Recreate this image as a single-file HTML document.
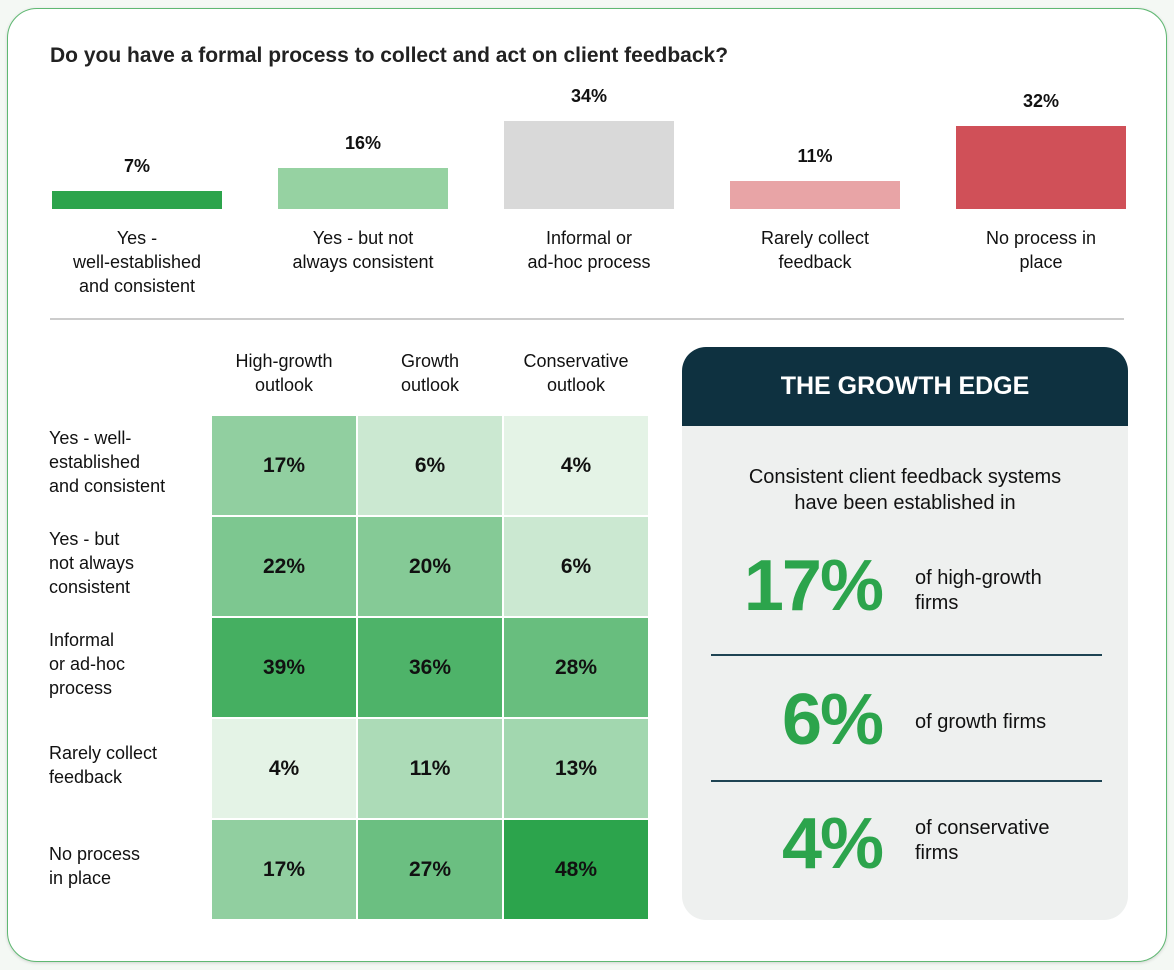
<!DOCTYPE html>
<html><head><meta charset="utf-8">
<style>
body{margin:0;width:1174px;height:970px;background:#f4f8f4;font-family:"Liberation Sans",sans-serif;position:relative;overflow:hidden;color:#111}
#card{position:absolute;left:7px;top:8px;width:1158px;height:952px;border:1.5px solid #5fb872;border-radius:30px;background:#fff;box-shadow:0 1px 3px rgba(0,0,0,.15)}
.abs{position:absolute}
#title{left:50px;top:44px;font-size:21px;font-weight:bold;color:#222}
.lbl{font-size:18px;text-align:center;line-height:24px}
.val{font-size:18px;font-weight:bold;text-align:center}
.rowl{font-size:18px;line-height:24px;left:49px}
.colh{font-size:18px;line-height:24px;text-align:center;width:146px}
.cell{display:flex;align-items:center;justify-content:center;font-size:21px;font-weight:bold;box-sizing:border-box;border:1px solid #fff}
#panel{left:682px;top:347px;width:446px;height:573px;border-radius:24px;background:#eef0ef;overflow:hidden}
#phead{left:0;top:0;width:446px;height:79px;background:#0e3140;color:#fff;font-size:25px;font-weight:bold;display:flex;align-items:center;justify-content:center}
.big{font-size:72px;font-weight:bold;color:#2ca44c;text-align:right;width:200px;left:0;letter-spacing:-2px}
.btxt{font-size:20px;line-height:25px;left:233px}
.sep{left:29px;width:391px;height:1.5px;background:#1e4453}
</style></head><body>
<div id="card"></div>
<div id="title" class="abs">Do you have a formal process to collect and act on client feedback?</div>
<div id="bars"></div>
<div class="abs" style="left:50px;top:318px;width:1074px;height:2px;background:#ccc"></div>
<div id="heat"></div>
<div id="panel" class="abs">
 <div id="phead" class="abs">THE GROWTH EDGE</div>
 <div class="abs" style="left:0;width:446px;top:117px;text-align:center;font-size:20px;line-height:26px">Consistent client feedback systems<br>have been established in</div>
 <div class="abs big" style="top:198px">17%</div>
 <div class="abs btxt" style="top:219px">of high-growth<br>firms</div>
 <div class="abs sep" style="top:307px"></div>
 <div class="abs big" style="top:332px">6%</div>
 <div class="abs btxt" style="top:363px">of growth firms</div>
 <div class="abs sep" style="top:433px"></div>
 <div class="abs big" style="top:456px">4%</div>
 <div class="abs btxt" style="top:469px">of conservative<br>firms</div>
</div>
<script>
const barCats=["Yes -<br>well-established<br>and consistent","Yes - but not<br>always consistent","Informal or<br>ad-hoc process","Rarely collect<br>feedback","No process in<br>place"];
const barVals=[7,16,34,11,32];
const barColors=["#2ca44c","#96d2a2","#d9d9d9","#e8a4a6","#d05058"];
const rowCats=["Yes - well-<br>established<br>and consistent","Yes - but<br>not always<br>consistent","Informal<br>or ad-hoc<br>process","Rarely collect<br>feedback","No process<br>in place"];
const colCats=["High-growth<br>outlook","Growth<br>outlook","Conservative<br>outlook"];
const heatVals=[[17,6,4],[22,20,6],[39,36,28],[4,11,13],[17,27,48]];

const bars=document.getElementById('bars');
const baseY=209, pxPer=2.58, bx0=52, bw=170, bpitch=226;
function by(v){return baseY-v*pxPer;}
barVals.forEach((v,i)=>{
 const x=bx0+i*bpitch;
 const b=document.createElement('div');b.className='abs';
 
 
 b.style.cssText=`left:${x}px;top:${by(v)}px;width:${bw}px;height:${baseY-by(v)}px;background:${barColors[i]}`;
 bars.appendChild(b);
 const t=document.createElement('div');t.className='abs val';
 
 
 t.style.cssText=`left:${x}px;width:${bw}px;top:${by(v)-35}px`;t.textContent=v+'%';
 bars.appendChild(t);
 const l=document.createElement('div');l.className='abs lbl';
 
 
 l.style.cssText=`left:${x-20}px;width:${bw+40}px;top:226px`;l.innerHTML=barCats[i];
 bars.appendChild(l);
});
const heat=document.getElementById('heat');
const hx0=211,hy0=415,cw=146,ch=101;
function cx(j){return hx0+j*cw;} function cy(i){return hy0+i*ch;}
function col(v){const t=Math.pow(Math.max(0,(v-4)/44),0.65);
 const a=[228,243,230],b=[44,164,76];
 return `rgb(${a.map((c,k)=>Math.round(c+(b[k]-c)*t)).join(',')})`;}
colCats.forEach((c,j)=>{const d=document.createElement('div');d.className='abs colh';
 
 
 d.style.left=cx(j)+'px';d.style.top='349px';d.innerHTML=c;heat.appendChild(d);});
rowCats.forEach((r,i)=>{const d=document.createElement('div');d.className='abs rowl';
 
 
 const lines=r.split('<br>').length;
 d.style.top=(cy(i)+ch/2-lines*12-4)+'px';d.innerHTML=r;heat.appendChild(d);
 heatVals[i].forEach((v,j)=>{const c=document.createElement('div');c.className='abs cell';
  
  
  c.style.cssText=`left:${cx(j)}px;top:${cy(i)}px;width:${cw}px;height:${ch}px;background:${col(v)}`;
  c.textContent=v+'%';heat.appendChild(c);});
});
</script>
</body></html>
